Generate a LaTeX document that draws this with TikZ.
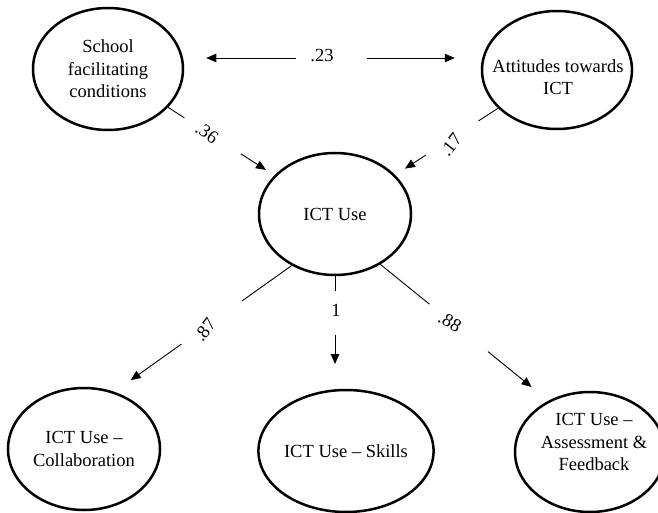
\documentclass[tikz,border=0pt]{standalone}
\usepackage{fontspec}
\setmainfont{Liberation Serif}
\usetikzlibrary{arrows.meta,shapes.geometric}
\begin{document}
\begin{tikzpicture}[x=1pt,y=-1pt,
  lat/.style={ellipse,draw,line width=2.5pt,inner sep=0pt,align=center,font=\fontsize{18.5}{22.5}\selectfont},
  txt/.style={align=center,font=\fontsize{18.5}{22.5}\selectfont,inner sep=0pt},
  conn/.style={line width=0.9pt},
  arr/.style={line width=0.9pt,-{Triangle[length=10pt,width=8.5pt]}},
  coef/.style={font=\fontsize{18.5}{22.5}\selectfont,inner sep=0pt}]

\fill[white] (0,0) rectangle (658,513);
\useasboundingbox (0,0) rectangle (658,513);

% latent variables
\node[lat,minimum width=150pt,minimum height=122pt] (school) at (108,69) {School\\facilitating\\conditions};
\node[lat,minimum width=150pt,minimum height=118pt] (att) at (557,70) {};
\node[txt] (att-t) at (558,77) {Attitudes towards\\ICT};
\node[lat,minimum width=152pt,minimum height=122pt] (use) at (335,214) {ICT Use};
\node[lat,minimum width=152pt,minimum height=122pt] (collab) at (84,449) {ICT Use --\\Collaboration};
\node[lat,minimum width=150pt,minimum height=122pt] (skills) at (346,451) {ICT Use -- Skills};
\node[lat,minimum width=150pt,minimum height=120pt] (assess) at (590,452) {};
\node[txt] (assess-t) at (594,442) {ICT Use --\\Assessment \&\\Feedback};

% .23 correlation
\path ([shift={(22,-11)}]school.east) coordinate (p23a) -- coordinate[pos=0.363] (p23b) coordinate[pos=0.645] (p23c) ([shift={(-26,-12)}]att.west) coordinate (p23d);
\draw[arr] (p23b) -- (p23a);
\draw[arr] (p23c) -- (p23d);
\node[coef] (l23) at (322,56) {.23};

% .36
\path (school) -- coordinate[pos=0.154] (p36b) coordinate[pos=0.684] (p36c) coordinate[pos=0.92] (p36d) (use);
\draw[conn] (school) -- (p36b);
\draw[arr] (p36c) -- (p36d);
\node[coef,rotate=-35] (l36) at (207,133) {.36};

% .17
\path (att) -- coordinate[pos=0.19] (p17b) coordinate[pos=0.70] (p17c) coordinate[pos=0.905] (p17d) (use);
\draw[conn] (att) -- (p17b);
\draw[arr] (p17c) -- (p17d);
\node[coef,rotate=52] (l17) at (451,145) {.17};

% .87
\path (use.230) -- coordinate[pos=0.28] (p87b) coordinate[pos=0.622] (p87c) coordinate[pos=0.908] (p87d) (collab.62);
\draw[conn] (use.230) -- (p87b);
\draw[arr] (p87c) -- (p87d);
\node[coef,rotate=52] (l87) at (205,330) {.87};

% 1
\path (use.south) -- coordinate[pos=0.13] (p1b) coordinate[pos=0.52] (p1c) coordinate[pos=0.78] (p1d) (use.south |- skills.north);
\draw[conn] (use.south) -- (p1b);
\draw[arr] (p1c) -- (p1d);
\node[coef] (l1) at (336,310) {1};

% .88
\path (use.312) -- coordinate[pos=0.292] (p88b) coordinate[pos=0.64] (p88c) coordinate[pos=0.9] (p88d) (assess.129);
\draw[conn] (use.312) -- (p88b);
\draw[arr] (p88c) -- (p88d);
\node[coef,rotate=-30] (l88) at (450,322) {.88};
\end{tikzpicture}
\end{document}
